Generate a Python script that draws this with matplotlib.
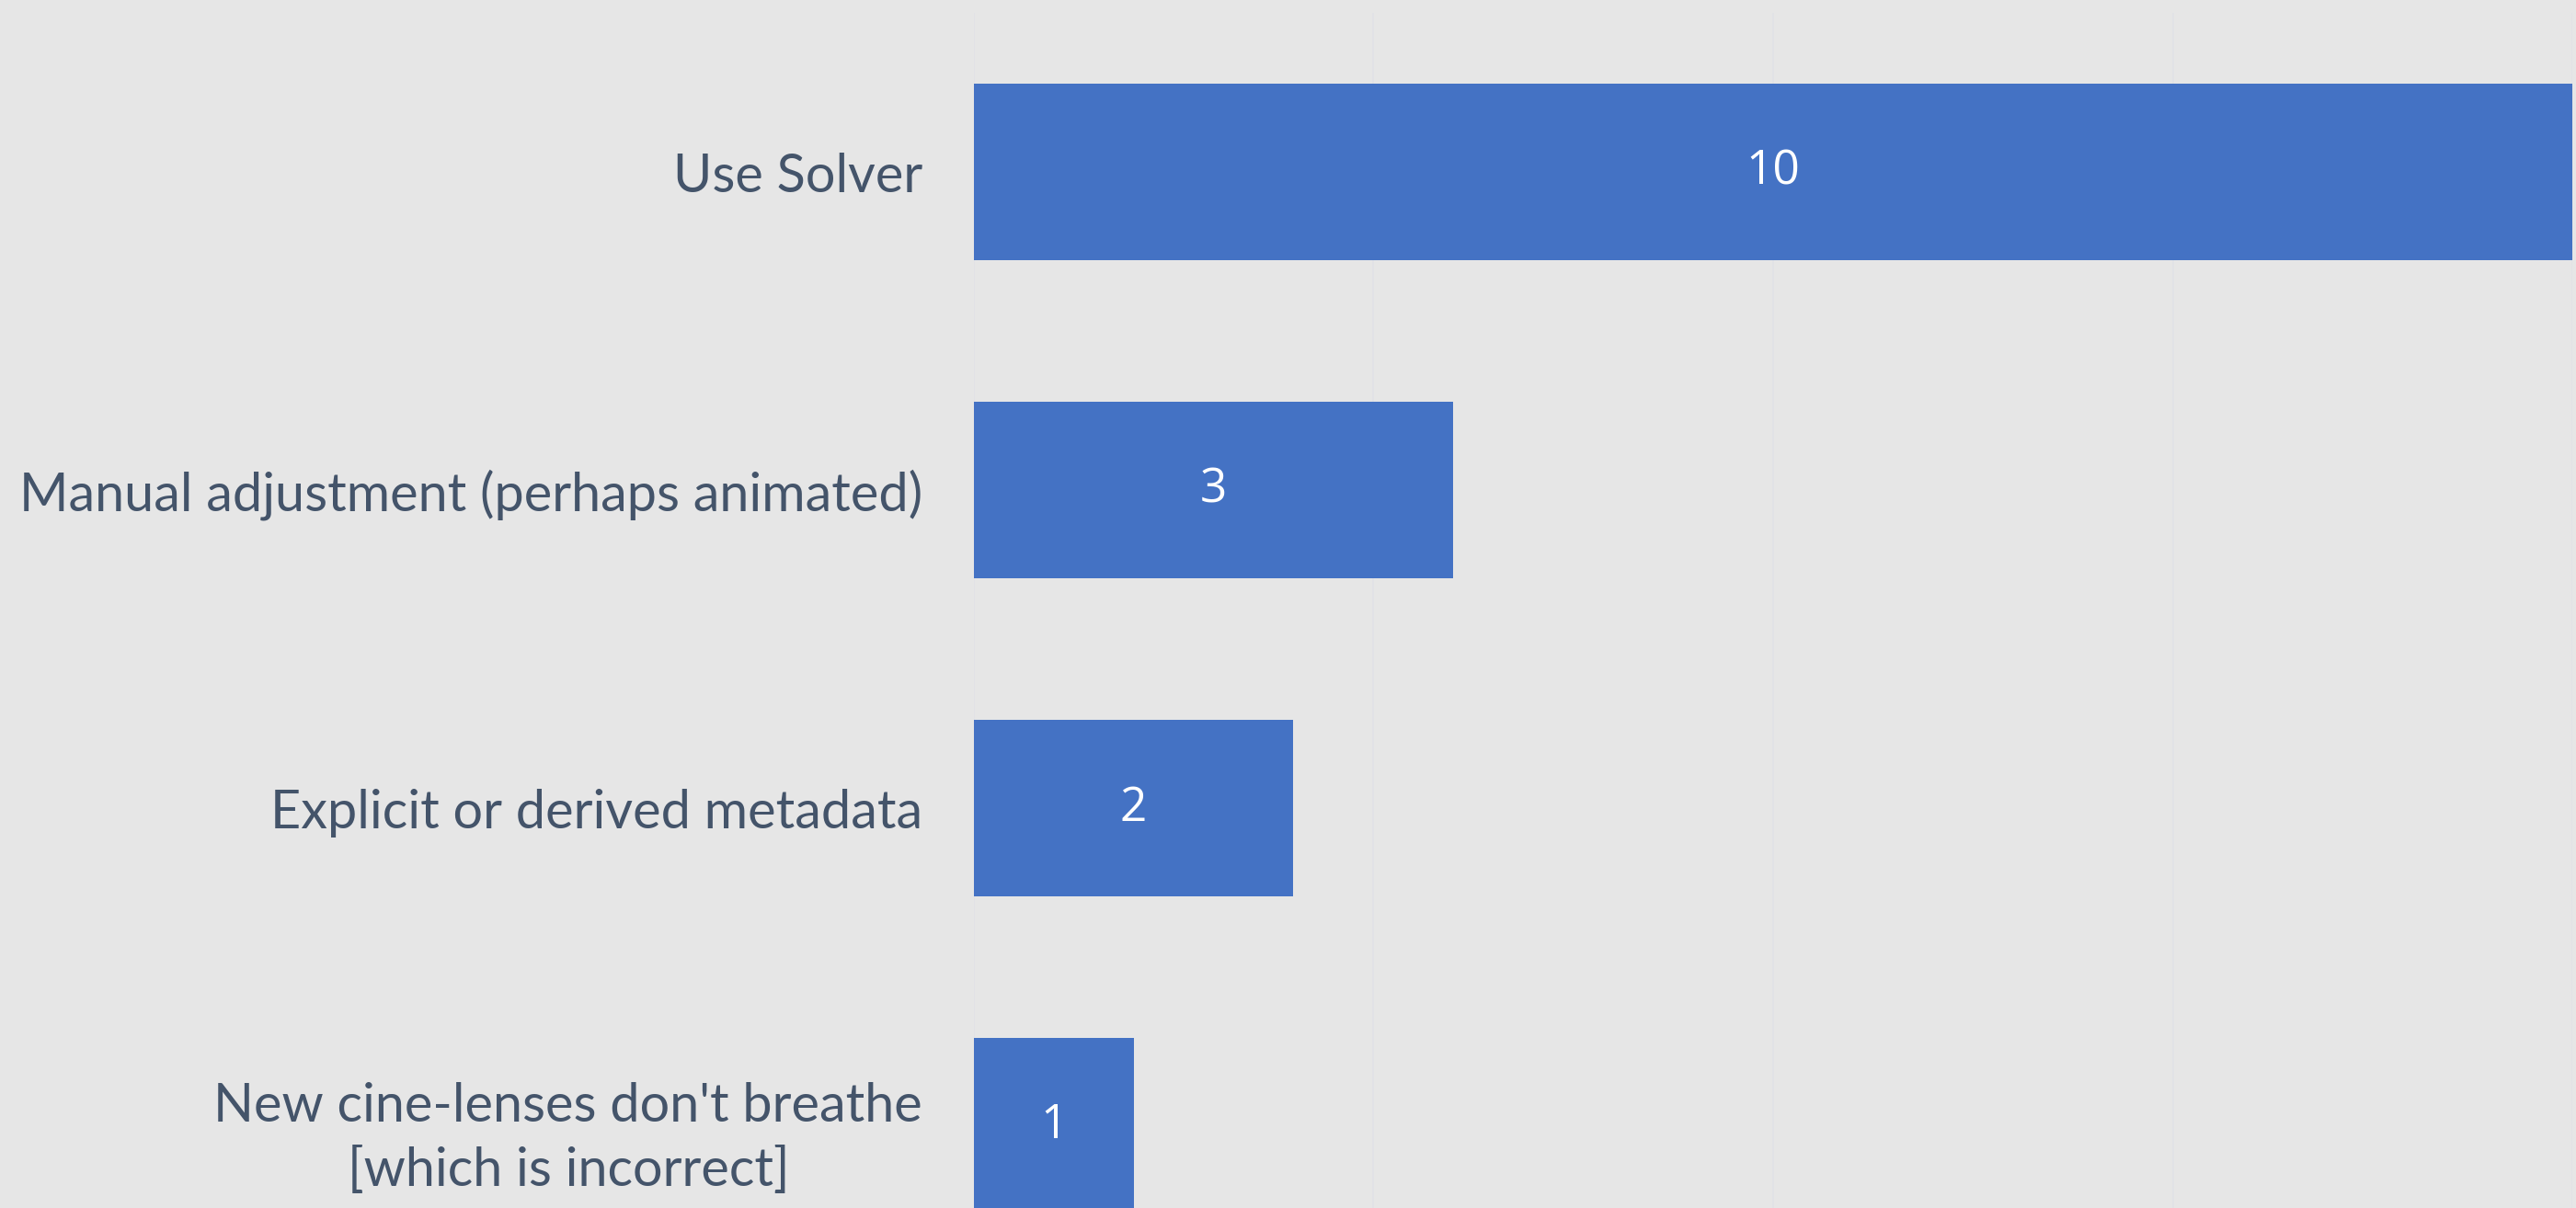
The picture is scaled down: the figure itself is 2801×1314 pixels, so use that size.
import numpy as np
import matplotlib.pyplot as plt

categories = ["Use Solver",
              "Manual adjustment (perhaps animated)",
              "Explicit or derived metadata",
              "New cine-lenses don't breathe\n[which is incorrect]"]
counts = [10, 3, 2, 1]
grid_ticks = [0, 2.5, 5, 7.5, 10]

bg = '#e6e6e6'
bar_color = '#4472c4'
label_color = '#44546a'

fig = plt.figure(figsize=(28.01, 13.14), dpi=100, facecolor=bg)
# axes runs off the bottom of the figure, like the cropped original
ax = fig.add_axes([0.378, -0.0639, 0.6206, 1.0532], facecolor=bg)

y = np.arange(len(categories))
bars = ax.barh(y, counts, height=0.555, color=bar_color, zorder=3)

ax.set_xlim(0, 10)
ax.set_ylim(len(categories) - 0.5, -0.5)
ax.set_xticks(grid_ticks)
ax.xaxis.grid(True, color='#e1e2e6', lw=1.2, zorder=0)
ax.tick_params(axis='x', length=0, labelbottom=False)
ax.tick_params(axis='y', length=0, pad=40)
ax.set_yticks(y)
ax.set_yticklabels(categories, fontsize=41.5, color=label_color,
                   family='Lato', multialignment='center', linespacing=1.4)
for s in ax.spines.values():
    s.set_visible(False)

ax.bar_label(bars, labels=[str(c) for c in counts], label_type='center',
             color='white', fontsize=37, family='Open Sans')

fig.savefig('out.png', dpi=100, facecolor=bg)
